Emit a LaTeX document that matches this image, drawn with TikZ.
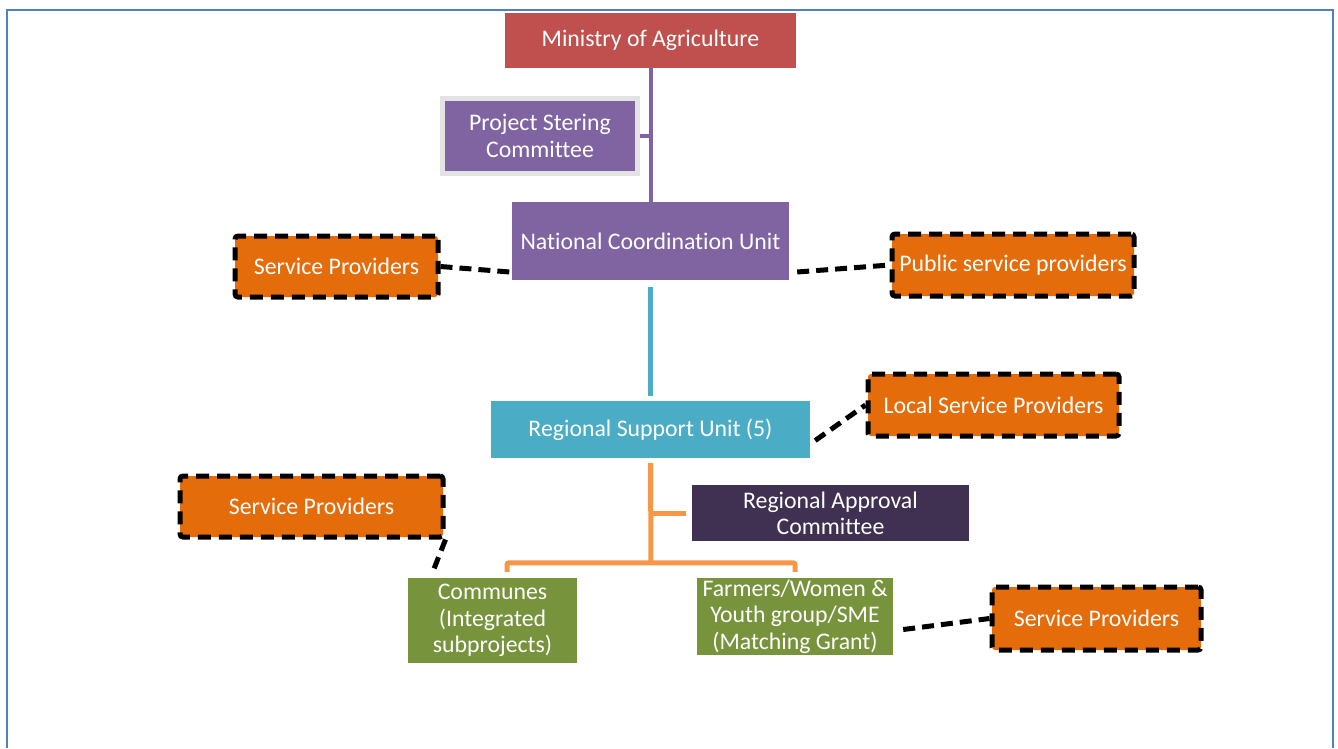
\documentclass[tikz,border=0pt]{standalone}
\usepackage{fontspec}
\setmainfont[Ligatures=NoCommon]{Carlito}
\definecolor{cred}{HTML}{C0504D}
\definecolor{cpurple}{HTML}{8064A2}
\definecolor{cteal}{HTML}{4BACC6}
\definecolor{corfill}{HTML}{E46C0A}
\definecolor{corline}{HTML}{F79646}
\definecolor{cdark}{HTML}{403152}
\definecolor{cgreen}{HTML}{77933C}
\definecolor{cframe}{HTML}{4F81BD}
\definecolor{cgrey}{HTML}{E3E3E3}
\tikzset{
  box/.style={inner sep=0pt, text=white, align=center, font=\fontsize{23.8}{26.3}\selectfont},
  spbox/.style={box, fill=corfill, draw=black, line width=5pt, dash pattern=on 13pt off 8pt, rounded corners=3pt},
  dashlink/.style={draw=black, line width=5pt, dash pattern=on 12pt off 7pt},
  pline/.style={draw=cpurple, line width=4pt},
  tline/.style={draw=cteal, line width=5pt},
  oline/.style={draw=corline, line width=5pt},
}
\begin{document}
\begin{tikzpicture}[x=1pt,y=-1pt]
\useasboundingbox (0,0) rectangle (1338,748);
\draw[cframe, line width=2.5pt] (7,748) -- (7,10) -- (1333,10) -- (1333,748);

\node[box, fill=cred, minimum width=291pt, minimum height=55pt] (min) at (650.5,40.5) {Ministry of Agriculture};
\node[box, fill=cpurple, draw=cgrey, line width=5pt, minimum width=195pt, minimum height=75.5pt] (psc) at (540,136) {Project Stering\\Committee};
\node[box, fill=cpurple, minimum width=277pt, minimum height=78pt] (ncu) at (650.5,241) {National Coordination Unit};
\node[spbox, minimum width=203pt, minimum height=61pt] (spl) at (336.5,266.5) {Service Providers};
\node[spbox, minimum width=242pt, minimum height=62pt] (pub) at (1013,265) {Public service providers};
\node[box, fill=cteal, minimum width=319pt, minimum height=57pt] (rsu) at (650.5,429.5) {Regional Support Unit (5)};
\node[spbox, minimum width=251pt, minimum height=62pt] (lsp) at (993.5,405) {Local Service Providers};
\node[box, fill=cdark, minimum width=277pt, minimum height=56pt] (rac) at (830.5,513) {Regional Approval\\Committee};
\node[spbox, minimum width=263pt, minimum height=61pt] (spc) at (311.5,506.5) {Service Providers};
\node[box, fill=cgreen, minimum width=169pt, minimum height=85pt] (com) at (492.5,620.5) {Communes\\(Integrated\\subprojects)};
\node[box, fill=cgreen, minimum width=196pt, minimum height=77pt] (far) at (795,616.5) {Farmers/Women \&\\Youth group/SME\\(Matching Grant)};
\node[spbox, minimum width=209pt, minimum height=63pt] (spr) at (1096.5,618.5) {Service Providers};

% purple trunk
\draw[pline] (min.south) -- (ncu.north);
\draw[pline] (psc.east) -- (psc.east -| min.south);
% teal
\draw[tline] ([yshift=-7pt]ncu.south) -- ([yshift=5pt]rsu.north);
% orange tree
\coordinate (hub) at (651,563);
\draw[oline] ([yshift=-5pt]rsu.south) -- (hub);
\draw[oline] (hub |- rac.west) -- ([xshift=-6pt]rac.west);
\draw[oline, rounded corners=2pt] ([xshift=14.5pt,yshift=6pt]com.north) -- ([xshift=14.5pt,yshift=15pt]com.north) -- ([yshift=15pt]far.north) -- ([yshift=6pt]far.north);

% dashed links
\draw[dashlink] (spl.east) -- ([xshift=-2pt,yshift=-31pt]ncu.west);
\draw[dashlink] ([xshift=8pt,yshift=-31pt]ncu.east) -- (pub.west);
\draw[dashlink] ([xshift=5pt,yshift=-11pt]rsu.east) -- (lsp.west);
\draw[dashlink] (spc.south east) -- ([xshift=25pt,yshift=6pt]com.north west);
\draw[dashlink] ([xshift=10pt,yshift=-13pt]far.east) -- (spr.west);
\end{tikzpicture}
\end{document}
